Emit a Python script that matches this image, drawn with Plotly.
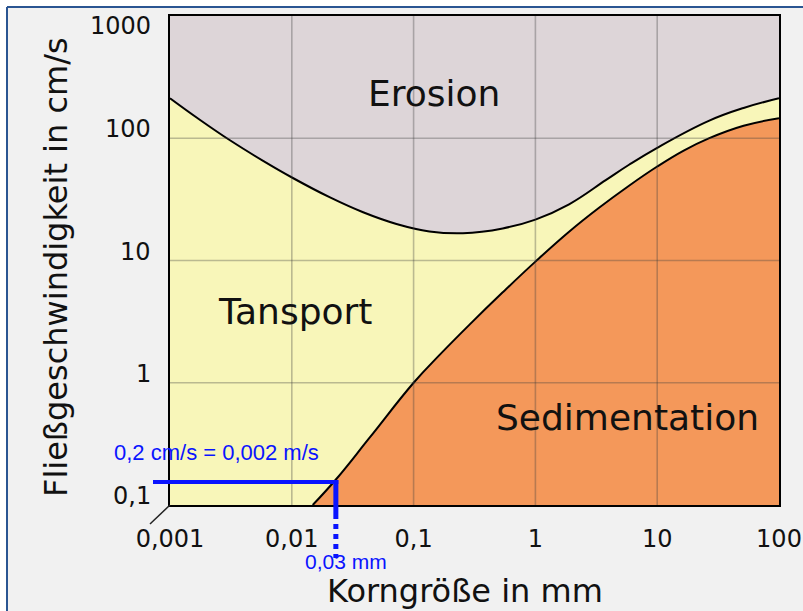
import math
import plotly.graph_objects as go

# ---------------- data ----------------
x_tick_vals = [0.001, 0.01, 0.1, 1, 10, 100]
x_tick_text = ["0,001", "0,01", "0,1", "1", "10", "100"]
y_tick_vals = [0.1, 1, 10, 100, 1000]
y_tick_text = ["0,1", "1", "10", "100", "1000"]

# Erosion boundary (upper curve): grain size in mm, velocity in cm/s
erosion_x = [0.001, 0.00171, 0.00313, 0.00586, 0.0102, 0.0206, 0.0385, 0.0723, 0.135, 0.254,
             0.539, 1.0, 1.89, 3.78, 5.87, 10, 26.5, 51.2, 100]
erosion_y = [212.5, 144.4, 95.8, 65.0, 47.3, 32.8, 24.8, 19.9, 17.3, 16.7,
             18.3, 21.6, 28.8, 45.4, 60.7, 83.6, 138.8, 177, 212.3]

# Sedimentation boundary (lower curve)
sed_x = [0.01485, 0.0233, 0.0437, 0.1, 0.1635, 0.288, 0.539, 1.0, 1.89, 3.33,
         5.87, 10, 16.5, 26.5, 51.2, 100]
sed_y = [0.1, 0.164, 0.357, 1.0, 1.69, 2.99, 5.49, 9.79, 17.2, 27.0,
         40.9, 58.7, 79.3, 99.8, 126.6, 145.8]

region_names = ["Erosion", "Tansport", "Sedimentation"]

# marked example point
marker_x = 0.023   # mm
marker_y = 0.154   # cm/s
marker_label_v = "0,2 cm/s = 0,002 m/s"
marker_label_d = "0,03 mm"

x_title = "Korngröße in mm"
y_title = "Fließgeschwindigkeit in cm/s"

# ---------------- layout helpers ----------------
FIG_W, FIG_H = 803, 611
L, R, T, B = 170, 24, 16, 106
W = FIG_W - L - R
H = FIG_H - T - B
XR = [math.log10(x_tick_vals[0]), math.log10(x_tick_vals[-1])]
YR = [math.log10(y_tick_vals[0]), math.log10(y_tick_vals[-1])]


def px_x(px):
    return (px - L) / W


def px_y(py):
    return (T + H - py) / H


def dx_paper(v):
    return (math.log10(v) - XR[0]) / (XR[1] - XR[0])


def dy_paper(v):
    return (math.log10(v) - YR[0]) / (YR[1] - YR[0])


C_EROSION = "#ddd5d8"
C_TRANSPORT = "#f8f6b9"
C_SED = "#f4985a"
C_BG = "#f1f1f1"
C_BLUE = "#0a14ff"
FONT = "DejaVu Sans"

fig = go.Figure()

x_lo, x_hi = x_tick_vals[0], x_tick_vals[-1]
y_lo, y_hi = y_tick_vals[0], y_tick_vals[-1]

# erosion fill (between top edge and upper curve)
fig.add_trace(go.Scatter(x=[x_lo, x_hi], y=[y_hi, y_hi], mode="lines",
                         line=dict(width=0), showlegend=False, hoverinfo="skip"))
fig.add_trace(go.Scatter(x=erosion_x, y=erosion_y, mode="lines", fill="tonexty",
                         fillcolor=C_EROSION,
                         line=dict(color="black", width=2, shape="spline", smoothing=1.2),
                         showlegend=False))
# sedimentation fill
fig.add_trace(go.Scatter(x=[x_lo, x_hi], y=[y_lo, y_lo], mode="lines",
                         line=dict(width=0), showlegend=False, hoverinfo="skip"))
fig.add_trace(go.Scatter(x=sed_x, y=sed_y, mode="lines", fill="tonexty",
                         fillcolor=C_SED,
                         line=dict(color="black", width=2, shape="spline", smoothing=1.2),
                         showlegend=False))

shapes = []
grid_col = "rgba(60,60,60,0.33)"
for v in x_tick_vals[1:-1]:
    shapes.append(dict(type="line", xref="x", yref="paper", x0=v, x1=v, y0=0, y1=1,
                       line=dict(color=grid_col, width=1.6), layer="above"))
for v in y_tick_vals[1:-1]:
    shapes.append(dict(type="line", xref="paper", yref="y", x0=0, x1=1, y0=v, y1=v,
                       line=dict(color=grid_col, width=1.6), layer="above"))

# white outer strips and blue frame
shapes.append(dict(type="rect", xref="paper", yref="paper", x0=px_x(-2), x1=px_x(7),
                   y0=px_y(FIG_H + 2), y1=px_y(-2), fillcolor="white", line=dict(width=0), layer="below"))
shapes.append(dict(type="rect", xref="paper", yref="paper", x0=px_x(-2), x1=px_x(FIG_W + 2),
                   y0=px_y(7), y1=px_y(-2), fillcolor="white", line=dict(width=0), layer="below"))
shapes.append(dict(type="line", xref="paper", yref="paper", x0=px_x(7), x1=px_x(FIG_W + 2),
                   y0=px_y(7), y1=px_y(7), line=dict(color="#2a5592", width=2), layer="below"))
shapes.append(dict(type="line", xref="paper", yref="paper", x0=px_x(7), x1=px_x(7),
                   y0=px_y(7), y1=px_y(FIG_H + 2), line=dict(color="#2a5592", width=2), layer="below"))

# diagonal corner tick
shapes.append(dict(type="line", xref="paper", yref="paper", x0=0, y0=0, x1=px_x(150), y1=px_y(524),
                   line=dict(color="#222", width=1.5), layer="above"))

# blue marker lines
mxp = dx_paper(marker_x)
myp = dy_paper(marker_y)
shapes.append(dict(type="line", xref="paper", yref="paper", x0=px_x(153), x1=mxp + 2.5 / W,
                   y0=myp, y1=myp, line=dict(color=C_BLUE, width=4), layer="above"))
shapes.append(dict(type="line", xref="paper", yref="paper", x0=mxp, x1=mxp,
                   y0=myp + 2 / H, y1=px_y(514), line=dict(color=C_BLUE, width=5), layer="above"))
shapes.append(dict(type="line", xref="paper", yref="paper", x0=mxp, x1=mxp,
                   y0=px_y(514), y1=px_y(558), line=dict(color=C_BLUE, width=5, dash="dot"), layer="above"))

annotations = []
# y tick labels
for v, t in zip(y_tick_vals, y_tick_text):
    shift = -10 if v == y_hi else 9
    annotations.append(dict(x=0, xref="paper", y=math.log10(v), yref="y", text=t, showarrow=False,
                            xanchor="right", yanchor="middle", xshift=-17, yshift=shift,
                            font=dict(family=FONT, size=24, color="#111")))

# region labels
region_pos = [(0.147, 234), (0.0106, 3.86), (5.75, 0.515)]
for name, (rx, ry) in zip(region_names, region_pos):
    annotations.append(dict(x=math.log10(rx), y=math.log10(ry), xref="x", yref="y", text=name,
                            xanchor="center", yanchor="middle",
                            showarrow=False, font=dict(family=FONT, size=36, color="#111")))

# axis titles
annotations.append(dict(x=px_x(465), y=px_y(591), xref="paper", yref="paper", text=x_title,
                        xanchor="center", yanchor="middle",
                        showarrow=False, font=dict(family=FONT, size=32, color="#111")))
annotations.append(dict(x=px_x(56), y=px_y(267), xref="paper", yref="paper", text=y_title,
                        xanchor="center", yanchor="middle",
                        textangle=-90, showarrow=False, font=dict(family=FONT, size=32, color="#111")))

# blue labels
annotations.append(dict(x=px_x(216), y=px_y(452), xref="paper", yref="paper", text=marker_label_v,
                        xanchor="center", yanchor="middle",
                        showarrow=False, font=dict(family="Liberation Sans", size=22, color=C_BLUE)))
annotations.append(dict(x=px_x(346), y=px_y(561), xref="paper", yref="paper", text=marker_label_d,
                        xanchor="center", yanchor="middle",
                        showarrow=False, font=dict(family="Liberation Sans", size=21, color=C_BLUE)))

fig.update_layout(
    width=FIG_W, height=FIG_H, autosize=False,
    margin=dict(l=L, r=R, t=T, b=B, pad=0, autoexpand=False),
    paper_bgcolor=C_BG, plot_bgcolor=C_TRANSPORT,
    showlegend=False,
    shapes=shapes, annotations=annotations,
    xaxis=dict(type="log", range=XR, tickvals=x_tick_vals, ticktext=x_tick_text,
               showgrid=False, zeroline=False, showline=True, mirror=True, automargin=False,
               linecolor="black", linewidth=2, ticks="",
               tickfont=dict(family=FONT, size=24, color="#111"), ticklabelstandoff=11),
    yaxis=dict(type="log", range=YR, tickvals=y_tick_vals, showticklabels=False,
               showgrid=False, zeroline=False, showline=True, mirror=True, automargin=False,
               linecolor="black", linewidth=2, ticks=""),
)

fig.write_html("out.html")
